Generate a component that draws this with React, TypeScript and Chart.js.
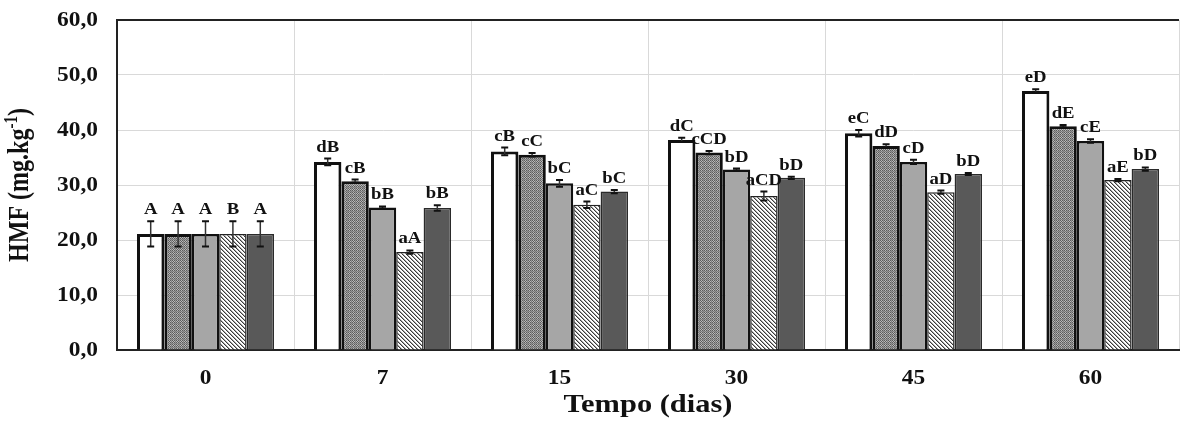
import React, { useEffect, useRef } from "react";
import { Chart, registerables } from "chart.js";

Chart.register(...registerables);

const categories = ["0", "7", "15", "30", "45", "60"];
const seriesNames = ["T1", "T2", "T3", "T4", "T5"];

const s1 = [21.1, 34.2, 36.1, 38.2, 39.4, 47.1];
const s2 = [21.1, 30.7, 35.5, 35.9, 37.1, 40.7];
const s3 = [21.1, 25.9, 30.3, 32.8, 34.2, 38.0];
const s4 = [21.1, 17.8, 26.4, 28.0, 28.7, 30.9];
const s5 = [21.1, 25.8, 28.8, 31.3, 32.0, 32.9];

const e1 = [2.3, 0.6, 0.7, 0.4, 0.6, 0.3];
const e2 = [2.3, 0.3, 0.3, 0.3, 0.3, 0.2];
const e3 = [2.3, 0.2, 0.6, 0.2, 0.4, 0.3];
const e4 = [2.3, 0.3, 0.6, 0.8, 0.3, 0.2];
const e5 = [2.3, 0.5, 0.3, 0.2, 0.2, 0.3];

const l1 = ["A", "dB", "cB", "dC", "eC", "eD"];
const l2 = ["A", "cB", "cC", "cCD", "dD", "dE"];
const l3 = ["A", "bB", "bC", "bD", "cD", "cE"];
const l4 = ["B", "aA", "aC", "aCD", "aD", "aE"];
const l5 = ["A", "bB", "bC", "bD", "bD", "bD"];

const yTicks = [0, 10, 20, 30, 40, 50, 60];

const xTitle = "Tempo (dias)";
const yTitleMain = "HMF (mg.kg";
const yTitleSup = "-1";
const yTitleEnd = ")";

const values = [s1, s2, s3, s4, s5];
const errors = [e1, e2, e3, e4, e5];
const letters = [l1, l2, l3, l4, l5];

const SERIF = '"Liberation Serif", "Times New Roman", serif';
const SX = 1.17;

function makeChecker(): CanvasPattern | string {
  const c = document.createElement("canvas");
  c.width = 4;
  c.height = 4;
  const g = c.getContext("2d");
  if (!g) return "#808080";
  for (let y = 0; y < 4; y++) {
    for (let x = 0; x < 4; x++) {
      let col = (x + y) % 2 === 0 ? "#5c5c5c" : "#b8b8b8";
      if (y === 3 || x === 3) col = (x + y) % 2 === 0 ? "#777777" : "#999999";
      g.fillStyle = col;
      g.fillRect(x, y, 1, 1);
    }
  }
  const p = g.createPattern(c, "repeat");
  return p || "#808080";
}

function makeHatch(): CanvasPattern | string {
  const c = document.createElement("canvas");
  c.width = 4;
  c.height = 4;
  const g = c.getContext("2d");
  if (!g) return "#c0c0c0";
  g.fillStyle = "#ffffff";
  g.fillRect(0, 0, 4, 4);
  for (let i = 0; i < 4; i++) {
    g.fillStyle = "#3a3a3a";
    g.fillRect(i, i, 1, 1);
    g.fillStyle = "#a8a8a8";
    g.fillRect((i + 1) % 4, i, 1, 1);
  }
  const p = g.createPattern(c, "repeat");
  return p || "#c0c0c0";
}

function stretchedText(
  ctx: CanvasRenderingContext2D,
  text: string,
  x: number,
  y: number,
  font: string,
  align: CanvasTextAlign,
  baseline: CanvasTextBaseline
) {
  ctx.save();
  ctx.translate(x, y);
  ctx.scale(SX, 1);
  ctx.font = font;
  ctx.textAlign = align;
  ctx.textBaseline = baseline;
  ctx.fillText(text, 0, 0);
  ctx.restore();
}

const overlayPlugin = {
  id: "overlay",
  afterDatasetsDraw(chart: any) {
    const ctx = chart.ctx;
    const yScale = chart.scales.y;
    const area = chart.chartArea;
    ctx.save();
    // error bars
    chart.data.datasets.forEach((ds: any, di: number) => {
      const meta = chart.getDatasetMeta(di);
      meta.data.forEach((el: any, i: number) => {
        const v = values[di][i];
        const e = errors[di][i];
        const x = el.x;
        const yt = yScale.getPixelForValue(v + e);
        const yb = yScale.getPixelForValue(v - e);
        ctx.strokeStyle = "#333333";
        ctx.lineWidth = 1.5;
        ctx.beginPath();
        ctx.moveTo(x, yt);
        ctx.lineTo(x, yb);
        ctx.stroke();
        ctx.strokeStyle = "#111111";
        ctx.lineWidth = 2;
        ctx.beginPath();
        ctx.moveTo(x - 3.5, yt);
        ctx.lineTo(x + 3.5, yt);
        ctx.moveTo(x - 3.5, yb);
        ctx.lineTo(x + 3.5, yb);
        ctx.stroke();
      });
    });
    // letters
    ctx.fillStyle = "#111111";
    chart.data.datasets.forEach((ds: any, di: number) => {
      const meta = chart.getDatasetMeta(di);
      meta.data.forEach((el: any, i: number) => {
        const v = values[di][i];
        const e = errors[di][i];
        const yt = yScale.getPixelForValue(v + e);
        stretchedText(ctx, letters[di][i], el.x, yt - 7, `bold 16px ${SERIF}`, "center", "alphabetic");
      });
    });
    // top frame line
    ctx.strokeStyle = "#222222";
    ctx.lineWidth = 2;
    ctx.beginPath();
    ctx.moveTo(area.left, area.top);
    ctx.lineTo(area.right, area.top);
    ctx.stroke();
    ctx.restore();
  },
  afterDraw(chart: any) {
    const ctx = chart.ctx;
    const area = chart.chartArea;
    const xScale = chart.scales.x;
    const yScale = chart.scales.y;
    ctx.save();
    ctx.fillStyle = "#111111";
    const tickFont = `bold 20px ${SERIF}`;
    // y tick labels
    yScale.ticks.forEach((t: any) => {
      const y = yScale.getPixelForValue(t.value);
      stretchedText(ctx, Number(t.value).toFixed(1).replace(".", ","), 98, y + 1, tickFont, "right", "middle");
    });
    // x tick labels
    xScale.ticks.forEach((t: any, i: number) => {
      const x = xScale.getPixelForTick(i);
      stretchedText(ctx, String(categories[i]), x, area.bottom + 29, tickFont, "center", "middle");
    });
    // x title
    stretchedText(ctx, xTitle, (area.left + area.right) / 2, 405, `bold 26px ${SERIF}`, "center", "middle");
    // y title with superscript
    const cy = (area.top + area.bottom) / 2;
    ctx.translate(21, cy);
    ctx.rotate(-Math.PI / 2);
    ctx.scale(1, 1.2);
    const mainFont = `bold 24px ${SERIF}`;
    const supFont = `bold 15px ${SERIF}`;
    ctx.font = mainFont;
    const w1 = ctx.measureText(yTitleMain).width;
    const w3 = ctx.measureText(yTitleEnd).width;
    ctx.font = supFont;
    const w2 = ctx.measureText(yTitleSup).width;
    const total = w1 + w2 + w3;
    let x = -total / 2;
    ctx.textAlign = "left";
    ctx.textBaseline = "middle";
    ctx.font = mainFont;
    ctx.fillText(yTitleMain, x, 0);
    x += w1;
    ctx.font = supFont;
    ctx.fillText(yTitleSup, x, -7);
    x += w2;
    ctx.font = mainFont;
    ctx.fillText(yTitleEnd, x, 0);
    ctx.restore();
  },
};

export default function App() {
  const ref = useRef<HTMLCanvasElement | null>(null);

  useEffect(() => {
    document.body.style.margin = "0";
    const canvas = ref.current;
    if (!canvas) return;
    const fills = ["#ffffff", makeChecker(), "#a6a6a6", makeHatch(), "#595959"];
    const borderWidths = [3, 3, 2.5, 1.5, 1.5];
    const borderColors = ["#111111", "#111111", "#111111", "#222222", "#2a2a2a"];
    const chart = new Chart(canvas, {
      type: "bar",
      data: {
        labels: categories,
        datasets: values.map((vals, i) => ({
          label: seriesNames[i],
          data: vals,
          backgroundColor: fills[i] as any,
          borderColor: borderColors[i],
          borderWidth: borderWidths[i],
          borderSkipped: "start" as const,
          categoryPercentage: 0.774,
          barPercentage: 1.0,
        })),
      },
      options: {
        animation: false,
        responsive: false,
        layout: { padding: { top: 20, right: 1, left: 0, bottom: 0 } },
        plugins: {
          legend: { display: false },
          tooltip: { enabled: false },
        },
        scales: {
          x: {
            grid: {
              color: "#d9d9d9",
              lineWidth: 1,
              drawTicks: false,
              offset: true,
            },
            border: { color: "#222222", width: 2 },
            ticks: { display: false },
            afterFit: (s: any) => {
              s.height = 73;
            },
          },
          y: {
            min: 0,
            max: 60,
            afterBuildTicks: (s: any) => {
              s.ticks = yTicks.map((v) => ({ value: v }));
            },
            grid: {
              color: "#d9d9d9",
              lineWidth: 1,
              drawTicks: false,
            },
            border: { color: "#222222", width: 2 },
            ticks: { display: false },
            afterFit: (s: any) => {
              s.width = 117;
            },
          },
        },
      },
      plugins: [overlayPlugin],
    });
    return () => chart.destroy();
  }, []);

  return (
    <div style={{ width: 1180, height: 423 }}>
      <canvas ref={ref} width={1180} height={423} />
    </div>
  );
}
